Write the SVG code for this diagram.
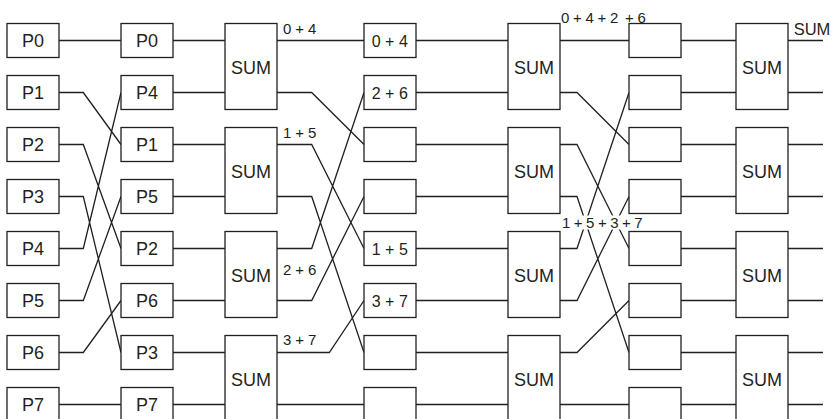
<svg xmlns="http://www.w3.org/2000/svg" width="835" height="419" viewBox="0 0 835 419">
<style>
.b{fill:#fff;stroke:#231f20;stroke-width:1.3}
.c{fill:none;stroke:#231f20;stroke-width:1.3}
.t{font-family:"Liberation Sans",Arial,sans-serif;font-size:18px;fill:#231f20;text-anchor:middle}
.v{font-family:"Liberation Sans",Arial,sans-serif;font-size:16px;fill:#231f20;text-anchor:middle;letter-spacing:4.5px}
.s{font-family:"Liberation Sans",Arial,sans-serif;font-size:15px;fill:#231f20;letter-spacing:4px}
</style>
<rect width="835" height="419" fill="#fff"/>
<g id="connectors">
<path class="c" d="M59,40.5H121 M59,92.5H83.3L121,144.5 M59,144.5H83.3L121,248.5 M59,196.5H83.3L121,352.5 M59,248.5H83.3L121,92.5 M59,300.5H83.3L121,196.5 M59,352.5H83.3L121,300.5 M59,404.5H121"/>
<path class="c" d="M173,40.5H225 M173,92.5H225 M173,144.5H225 M173,196.5H225 M173,248.5H225 M173,300.5H225 M173,352.5H225 M173,404.5H225"/>
<path class="c" d="M277,40.5H364 M277,92.5H311.7L364,144.5 M277,144.5H311.7L364,248.5 M277,196.5H311.7L364,352.5 M277,248.5H311.7L364,92.5 M277,300.5H311.7L364,196.5 M277,352.5H329.3L364,300.5 M277,404.5H364"/>
<path class="c" d="M416,40.5H508 M416,92.5H508 M416,144.5H508 M416,196.5H508 M416,248.5H508 M416,300.5H508 M416,352.5H508 M416,404.5H508"/>
<path class="c" d="M560,40.5H629 M560,92.5H577L629,144.5 M560,144.5H577L629,248.5 M560,196.5H577L629,352.5 M560,248.5H577L629,92.5 M560,300.5H577L629,196.5 M560,352.5H577L629,300.5 M560,404.5H629"/>
<path class="c" d="M681,40.5H736 M681,92.5H736 M681,144.5H736 M681,196.5H736 M681,248.5H736 M681,300.5H736 M681,352.5H736 M681,404.5H736"/>
<path class="c" d="M788,40.5H823 M788,92.5H823 M788,144.5H823 M788,196.5H823 M788,248.5H823 M788,300.5H823 M788,352.5H823 M788,404.5H823"/>
<text class="s" x="283" y="34">0+4</text>
<text class="s" x="283" y="138">1+5</text>
<text class="s" x="283" y="275">2+6</text>
<text class="s" x="283" y="345">3+7</text>
<text class="s" x="561" y="23" style="letter-spacing:3.7px">0+4+2<tspan dx="3">+6</tspan></text>
<rect x="562" y="215.5" width="82" height="14" fill="#fff"/>
<text class="s" x="562" y="228" style="letter-spacing:3.5px">1+5+3+7</text>
<text class="t" x="812" y="35" style="font-size:16.5px">SUM</text>
</g>
<g id="in-P0"><rect class="b" x="7" y="23.5" width="52" height="34"/><text class="t" x="33" y="47">P0</text></g>
<g id="in-P1"><rect class="b" x="7" y="75.5" width="52" height="34"/><text class="t" x="33" y="99">P1</text></g>
<g id="in-P2"><rect class="b" x="7" y="127.5" width="52" height="34"/><text class="t" x="33" y="151">P2</text></g>
<g id="in-P3"><rect class="b" x="7" y="179.5" width="52" height="34"/><text class="t" x="33" y="203">P3</text></g>
<g id="in-P4"><rect class="b" x="7" y="231.5" width="52" height="34"/><text class="t" x="33" y="255">P4</text></g>
<g id="in-P5"><rect class="b" x="7" y="283.5" width="52" height="34"/><text class="t" x="33" y="307">P5</text></g>
<g id="in-P6"><rect class="b" x="7" y="335.5" width="52" height="34"/><text class="t" x="33" y="359">P6</text></g>
<g id="in-P7"><rect class="b" x="7" y="387.5" width="52" height="34"/><text class="t" x="33" y="411">P7</text></g>
<g id="sh-P0"><rect class="b" x="121" y="23.5" width="52" height="34"/><text class="t" x="147" y="47">P0</text></g>
<g id="sh-P4"><rect class="b" x="121" y="75.5" width="52" height="34"/><text class="t" x="147" y="99">P4</text></g>
<g id="sh-P1"><rect class="b" x="121" y="127.5" width="52" height="34"/><text class="t" x="147" y="151">P1</text></g>
<g id="sh-P5"><rect class="b" x="121" y="179.5" width="52" height="34"/><text class="t" x="147" y="203">P5</text></g>
<g id="sh-P2"><rect class="b" x="121" y="231.5" width="52" height="34"/><text class="t" x="147" y="255">P2</text></g>
<g id="sh-P6"><rect class="b" x="121" y="283.5" width="52" height="34"/><text class="t" x="147" y="307">P6</text></g>
<g id="sh-P3"><rect class="b" x="121" y="335.5" width="52" height="34"/><text class="t" x="147" y="359">P3</text></g>
<g id="sh-P7"><rect class="b" x="121" y="387.5" width="52" height="34"/><text class="t" x="147" y="411">P7</text></g>
<g id="sum1-a"><rect class="b" x="225" y="23.5" width="52" height="86"/><text class="t" x="251" y="74">SUM</text></g>
<g id="sum1-b"><rect class="b" x="225" y="127.5" width="52" height="86"/><text class="t" x="251" y="178">SUM</text></g>
<g id="sum1-c"><rect class="b" x="225" y="231.5" width="52" height="86"/><text class="t" x="251" y="282">SUM</text></g>
<g id="sum1-d"><rect class="b" x="225" y="335.5" width="52" height="86"/><text class="t" x="251" y="386">SUM</text></g>
<g id="s2-0"><rect class="b" x="364" y="23.5" width="52" height="34"/><text class="v" x="392" y="47">0+4</text></g>
<g id="s2-1"><rect class="b" x="364" y="75.5" width="52" height="34"/><text class="v" x="392" y="99">2+6</text></g>
<g id="s2-2"><rect class="b" x="364" y="127.5" width="52" height="34"/></g>
<g id="s2-3"><rect class="b" x="364" y="179.5" width="52" height="34"/></g>
<g id="s2-4"><rect class="b" x="364" y="231.5" width="52" height="34"/><text class="v" x="392" y="255">1+5</text></g>
<g id="s2-5"><rect class="b" x="364" y="283.5" width="52" height="34"/><text class="v" x="392" y="307">3+7</text></g>
<g id="s2-6"><rect class="b" x="364" y="335.5" width="52" height="34"/></g>
<g id="s2-7"><rect class="b" x="364" y="387.5" width="52" height="34"/></g>
<g id="sum2-a"><rect class="b" x="508" y="23.5" width="52" height="86"/><text class="t" x="534" y="74">SUM</text></g>
<g id="sum2-b"><rect class="b" x="508" y="127.5" width="52" height="86"/><text class="t" x="534" y="178">SUM</text></g>
<g id="sum2-c"><rect class="b" x="508" y="231.5" width="52" height="86"/><text class="t" x="534" y="282">SUM</text></g>
<g id="sum2-d"><rect class="b" x="508" y="335.5" width="52" height="86"/><text class="t" x="534" y="386">SUM</text></g>
<g id="s3-0"><rect class="b" x="629" y="23.5" width="52" height="34"/></g>
<g id="s3-1"><rect class="b" x="629" y="75.5" width="52" height="34"/></g>
<g id="s3-2"><rect class="b" x="629" y="127.5" width="52" height="34"/></g>
<g id="s3-3"><rect class="b" x="629" y="179.5" width="52" height="34"/></g>
<g id="s3-4"><rect class="b" x="629" y="231.5" width="52" height="34"/></g>
<g id="s3-5"><rect class="b" x="629" y="283.5" width="52" height="34"/></g>
<g id="s3-6"><rect class="b" x="629" y="335.5" width="52" height="34"/></g>
<g id="s3-7"><rect class="b" x="629" y="387.5" width="52" height="34"/></g>
<g id="sum3-a"><rect class="b" x="736" y="23.5" width="52" height="86"/><text class="t" x="762" y="74">SUM</text></g>
<g id="sum3-b"><rect class="b" x="736" y="127.5" width="52" height="86"/><text class="t" x="762" y="178">SUM</text></g>
<g id="sum3-c"><rect class="b" x="736" y="231.5" width="52" height="86"/><text class="t" x="762" y="282">SUM</text></g>
<g id="sum3-d"><rect class="b" x="736" y="335.5" width="52" height="86"/><text class="t" x="762" y="386">SUM</text></g>
</svg>
